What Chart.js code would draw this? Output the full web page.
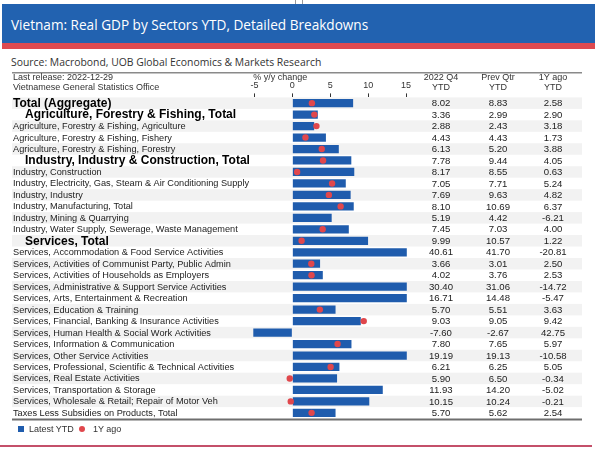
<!DOCTYPE html>
<html>
<head>
<meta charset="utf-8">
<script src="https://cdn.jsdelivr.net/npm/chart.js@4.4.0/dist/chart.umd.min.js"></script>
<style>
  html, body { margin: 0; padding: 0; background: #fff; }
  body { width: 596px; height: 453px; position: relative; overflow: hidden; font-family: "Liberation Sans", Arial, sans-serif; }
  #handle { position: absolute; left: 295px; top: -2px; width: 6px; height: 6px; border: 1px solid #999; background: #fff; }
  #band { position: absolute; left: 2px; top: 4px; width: 593px; height: 39px; background: #2262b0; }
  #stripe { position: absolute; left: 2px; top: 43px; width: 593px; height: 6px; background: #de4a50; }
  #title { position: absolute; left: 11px; top: 5px; line-height: 40px; color: #fff; font-family: "Open Sans", sans-serif; font-size: 13.6px; }
  #source { position: absolute; left: 11px; top: 55px; font-family: "Open Sans", sans-serif; font-size: 10.4px; color: #333; }
  #wrap { position: absolute; left: 0; top: 70px; width: 596px; height: 354px; }
  .lg { position: absolute; top: 423px; font-size: 9px; line-height: 12px; color: #333; }
  #sw { position: absolute; left: 18px; top: 426px; width: 6px; height: 6px; background: #1f5cad; }
  #dot { position: absolute; left: 79px; top: 426px; width: 6px; height: 6px; border-radius: 50%; background: #e0474c; }
  #foot { position: absolute; left: 0; top: 445px; width: 592px; height: 2px; background: #c4506a; }
</style>
</head>
<body>
<div id="handle"></div>
<div id="band"></div>
<div id="stripe"></div>
<div id="title">Vietnam: Real GDP by Sectors YTD, Detailed Breakdowns</div>
<div id="source">Source: Macrobond, UOB Global Economics &amp; Markets Research</div>
<div id="wrap"><canvas id="gdp"></canvas></div>
<div id="sw"></div><div class="lg" style="left:29px">Latest YTD</div>
<div id="dot"></div><div class="lg" style="left:93px">1Y ago</div>
<div id="foot"></div>
<script>
// rows of the table, top to bottom
const categories = [
  'Total (Aggregate)',
  'Agriculture, Forestry & Fishing, Total',
  'Agriculture, Forestry & Fishing, Agriculture',
  'Agriculture, Forestry & Fishing, Fishery',
  'Agriculture, Forestry & Fishing, Forestry',
  'Industry, Industry & Construction, Total',
  'Industry, Construction',
  'Industry, Electricity, Gas, Steam & Air Conditioning Supply',
  'Industry, Industry',
  'Industry, Manufacturing, Total',
  'Industry, Mining & Quarrying',
  'Industry, Water Supply, Sewerage, Waste Management',
  'Services, Total',
  'Services, Accommodation & Food Service Activities',
  'Services, Activities of Communist Party, Public Admin',
  'Services, Activities of Households as Employers',
  'Services, Administrative & Support Service Activities',
  'Services, Arts, Entertainment & Recreation',
  'Services, Education & Training',
  'Services, Financial, Banking & Insurance Activities',
  'Services, Human Health & Social Work Activities',
  'Services, Information & Communication',
  'Services, Other Service Activities',
  'Services, Professional, Scientific & Technical Activities',
  'Services, Real Estate Activities',
  'Services, Transportation & Storage',
  'Services, Wholesale & Retail; Repair of Motor Veh',
  'Taxes Less Subsidies on Products, Total'
];

const latestYTD = [8.02, 3.36, 2.88, 4.43, 6.13, 7.78, 8.17, 7.05, 7.69, 8.10, 5.19, 7.45, 9.99, 40.61,
  3.66, 4.02, 30.40, 16.71, 5.70, 9.03, -7.60, 7.80, 19.19, 6.21, 5.90, 11.93, 10.15, 5.70];
const prevQtrYTD = [8.83, 2.99, 2.43, 4.43, 5.20, 9.44, 8.55, 7.71, 9.63, 10.69, 4.42, 7.03, 10.57, 41.70,
  3.01, 3.76, 31.06, 14.48, 5.51, 9.05, -2.67, 7.65, 19.13, 6.25, 6.50, 14.20, 10.24, 5.62];
const yearAgoYTD = [2.58, 2.90, 3.18, 1.73, 3.88, 4.05, 0.63, 5.24, 4.82, 6.37, -6.21, 4.00, 1.22, -20.81,
  2.50, 2.53, -14.72, -5.47, 3.63, 9.42, 42.75, 5.97, -10.58, 5.05, -0.34, -5.02, -0.21, 2.54];

// bold aggregate rows; the first one is not indented
const totalRows = [0, 1, 5, 12];

const FONT = "'Liberation Sans', Arial, sans-serif";
const BLUE = '#1f5cad';
const RED = '#e0474c';

const AXIS_MIN = -5.15;
const AXIS_MAX = 15.1;

// value columns: header lines, x centre, data
const columns = [
  { head: ['2022 Q4', 'YTD'], x: 441, data: latestYTD },
  { head: ['Prev Qtr', 'YTD'], x: 498, data: prevQtrYTD },
  { head: ['1Y ago', 'YTD'], x: 553, data: yearAgoYTD }
];

// draws row bands, rules and the text columns around the bars
const tablePlugin = {
  id: 'tablePlugin',
  beforeDatasetsDraw(chart) {
    const { ctx, chartArea, scales: { y } } = chart;
    const rowH = y.getPixelForValue(1) - y.getPixelForValue(0);
    ctx.save();
    ctx.fillStyle = '#f2f2f2';
    categories.forEach((c, i) => {
      if (i % 2 === 0) {
        const cy = y.getPixelForValue(i);
        ctx.fillRect(12, cy - rowH / 2, 570, rowH);
      }
    });
    ctx.strokeStyle = '#8a8a8a';
    ctx.lineWidth = 1.5;
    ctx.beginPath();
    ctx.moveTo(12, 2.7);
    ctx.lineTo(582, 2.7);
    ctx.stroke();
    ctx.strokeStyle = '#6e6e6e';
    ctx.lineWidth = 2;
    ctx.beginPath();
    ctx.moveTo(12, chartArea.bottom + 1);
    ctx.lineTo(582, chartArea.bottom + 1);
    ctx.stroke();
    ctx.restore();
  },
  afterDatasetsDraw(chart) {
    const { ctx, scales: { y } } = chart;
    ctx.save();
    ctx.textBaseline = 'middle';

    // header block
    ctx.font = '9px ' + FONT;
    ctx.fillStyle = '#333';
    ctx.textAlign = 'left';
    ctx.fillText('Last release: 2022-12-29', 13, 8);
    ctx.fillText('Vietnamese General Statistics Office', 13, 17.5);
    ctx.textAlign = 'center';
    columns.forEach(col => {
      ctx.fillText(col.head[0], col.x, 8);
      ctx.fillText(col.head[1], col.x, 17.5);
    });

    // row labels
    categories.forEach((label, i) => {
      const cy = y.getPixelForValue(i);
      ctx.textAlign = 'left';
      if (totalRows.includes(i)) {
        ctx.font = 'bold 12px ' + FONT;
        ctx.fillStyle = '#000';
        ctx.fillText(label, i === 0 ? 13 : 25, cy + 0.5);
      } else {
        ctx.font = '9.2px ' + FONT;
        ctx.fillStyle = '#222';
        ctx.fillText(label, 13, cy + 0.5);
      }
    });

    // value columns
    ctx.font = '9.6px ' + FONT;
    ctx.fillStyle = '#222';
    ctx.textAlign = 'center';
    columns.forEach(col => {
      col.data.forEach((v, i) => {
        ctx.fillText(v.toFixed(2), col.x, y.getPixelForValue(i) + 0.5);
      });
    });
    ctx.restore();
  }
};

new Chart(document.getElementById('gdp'), {
  type: 'bar',
  data: {
    labels: categories,
    datasets: [
      {
        type: 'line',
        label: '1Y ago',
        data: yearAgoYTD,
        showLine: false,
        order: 0,
        clip: 0,
        // dots beyond the axis window are not shown
        pointRadius: c => (c.raw < -5 || c.raw > 15 ? 0 : 3.2),
        pointBackgroundColor: RED,
        pointBorderWidth: 0
      },
      {
        label: 'Latest YTD',
        data: latestYTD,
        backgroundColor: BLUE,
        barPercentage: 0.72,
        categoryPercentage: 1,
        order: 1,
        clip: 0
      }
    ]
  },
  options: {
    indexAxis: 'y',
    responsive: true,
    maintainAspectRatio: false,
    animation: false,
    events: [],
    layout: { padding: { left: 253.3, right: 189.2, top: 0, bottom: 5.4 } },
    plugins: {
      legend: { display: false },
      tooltip: { enabled: false }
    },
    scales: {
      x: {
        position: 'top',
        min: AXIS_MIN,
        max: AXIS_MAX,
        afterFit: scale => { scale.height = 27.4; },
        ticks: {
          stepSize: 5,
          includeBounds: false,
          maxRotation: 0,
          padding: 2,
          color: '#333',
          font: { family: FONT, size: 9 }
        },
        grid: { drawOnChartArea: false, tickLength: 4, color: '#333' },
        border: { display: false },
        title: {
          display: true,
          text: '% y/y change',
          align: 'start',
          color: '#333',
          padding: { top: 2.5, bottom: 0 },
          font: { family: FONT, size: 9 }
        }
      },
      y: { display: false, offset: true }
    }
  },
  plugins: [tablePlugin]
});
</script>
</body>
</html>
